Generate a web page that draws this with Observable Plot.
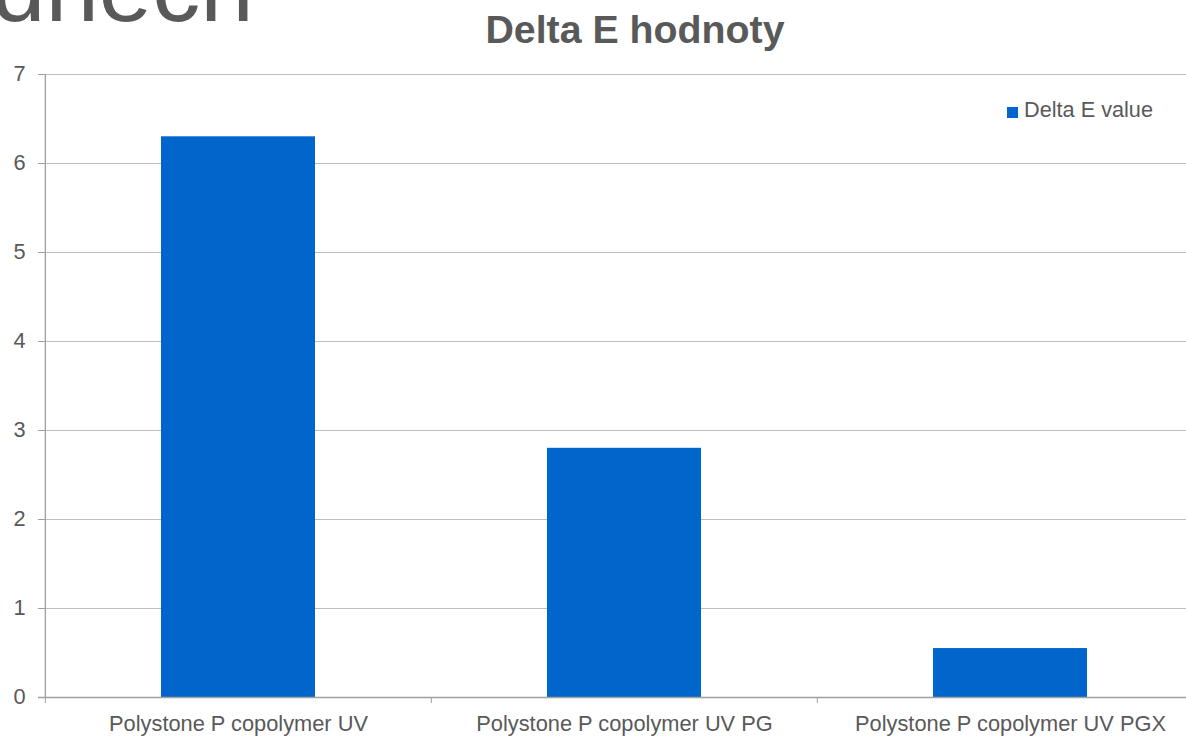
<!DOCTYPE html>
<html>
<head>
<meta charset="utf-8">
<script src="https://cdn.jsdelivr.net/npm/d3@7"></script>
<script src="https://cdn.jsdelivr.net/npm/@observablehq/plot@0.6"></script>
<style>
  html, body { margin: 0; padding: 0; background: #fff; overflow: hidden; width: 1186px; height: 736px; }
  #wrap { position: relative; width: 1186px; height: 736px; font-family: "Liberation Sans", Arial, sans-serif; color: #595959; overflow: hidden; }
  #decor { position: absolute; left: -8px; top: -60px; font-size: 96px; line-height: 96px; white-space: nowrap; color: #595959; }
  #title { position: absolute; left: 335px; width: 600px; top: 10px; text-align: center; font-weight: bold; font-size: 39.3px; line-height: 39px; color: #595959; }
  #legend { position: absolute; left: 1007px; top: 99px; font-size: 21.7px; line-height: 21.5px; white-space: nowrap; }
  #legend .sw { position: absolute; left: 0; top: 8px; width: 11px; height: 11px; }
  #legend .lb { position: absolute; left: 17px; top: 0; }
  #chart { position: absolute; left: 0; top: 0; }
</style>
</head>
<body>
<div id="wrap">
  <div id="decor"></div>
  <div id="chart"></div>
  <div id="title"></div>
  <div id="legend"></div>
</div>
<script>
// ---- data ----
const decorText = "dnech";
const titleText = "Delta E hodnoty";
const categories = ["Polystone P copolymer UV", "Polystone P copolymer UV PG", "Polystone P copolymer UV PGX"];
const values = [6.3, 2.8, 0.55];
const seriesName = "Delta E value";
const seriesColor = "#0066CC";
const yTicks = [0, 1, 2, 3, 4, 5, 6, 7];

const data = categories.map((c, i) => ({category: c, value: values[i], series: seriesName}));

// ---- layout ----
const W = 1186, H = 736;
const mL = 45, mR = -18, mT = 74, mB = 39;
const pInner = 0.6, pOuter = 0.3;
const step = (W - mL - mR) / (categories.length - pInner + 2 * pOuter);

document.getElementById("decor").textContent = decorText;
document.getElementById("title").textContent = titleText;

const plot = Plot.plot({
  width: W,
  height: H,
  marginLeft: mL,
  marginRight: mR,
  marginTop: mT,
  marginBottom: mB,
  style: {fontFamily: "'Liberation Sans', Arial, sans-serif", fontSize: "21.8px", color: "#595959", background: "transparent", overflow: "visible"},
  x: {domain: categories, paddingInner: pInner, paddingOuter: pOuter, label: null},
  y: {domain: [0, 7], label: null},
  color: {domain: [seriesName], range: [seriesColor]},
  marks: [
    Plot.gridY(yTicks, {stroke: "#bdbdbd", strokeOpacity: 1, strokeWidth: 1}),
    Plot.barY(data, {x: "category", y: "value", fill: "series"}),
    Plot.ruleY([0], {stroke: "#a0a0a0", strokeWidth: 1.3, insetLeft: -7}),
    Plot.ruleX([categories[0]], {y1: 0, y2: 7, dx: -step / 2, stroke: "#a0a0a0", strokeWidth: 1.3}),
    Plot.ruleX(categories, {y1: 0, y2: 0, dx: -step / 2, insetBottom: -6, stroke: "#a0a0a0", strokeWidth: 1}),
    Plot.axisY(yTicks, {tickSize: 7, tickPadding: 13, stroke: "#a0a0a0", fill: "#595959", label: null, tickFormat: d => String(d)}),
    Plot.axisX({tickSize: 0, tickPadding: 18, fill: "#595959", label: null})
  ]
});
document.getElementById("chart").appendChild(plot);

// legend from the plot's color scale
const cs = plot.scale("color");
const legend = document.getElementById("legend");
cs.domain.forEach((d, i) => {
  const sw = document.createElement("div");
  sw.className = "sw";
  sw.style.background = cs.range[i];
  const lb = document.createElement("div");
  lb.className = "lb";
  lb.textContent = d;
  legend.appendChild(sw);
  legend.appendChild(lb);
});
</script>
</body>
</html>
